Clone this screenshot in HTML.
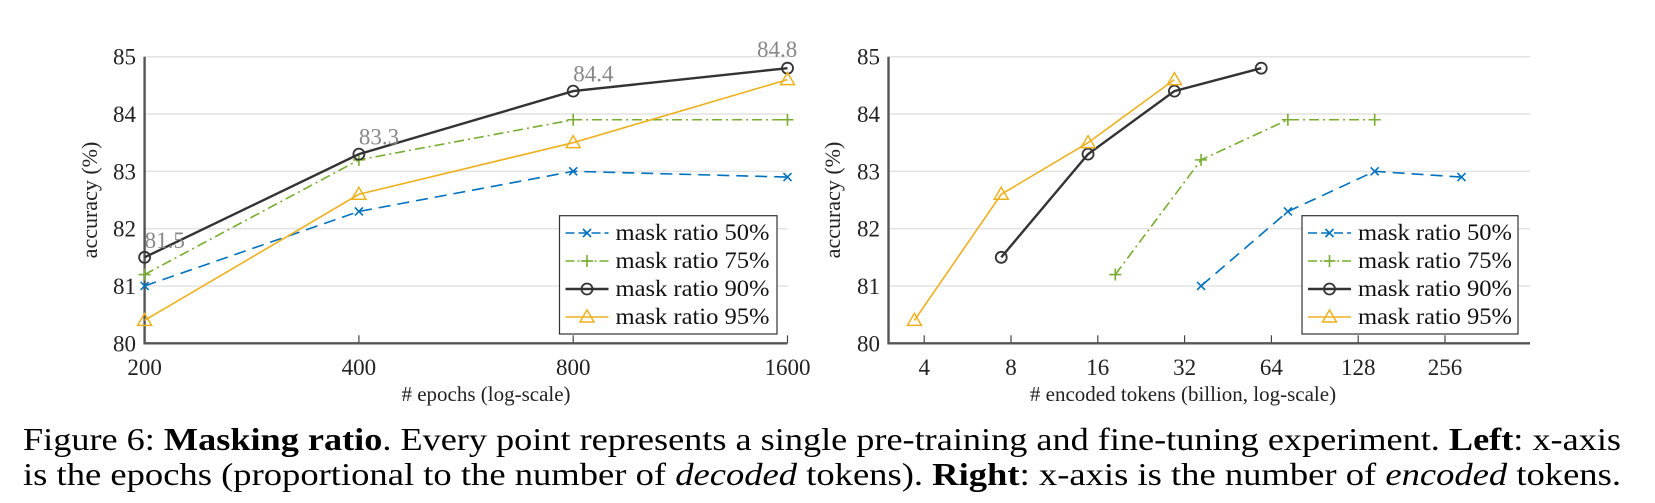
<!DOCTYPE html>
<html><head><meta charset="utf-8"><style>
html,body{margin:0;padding:0;background:#fff;}
svg{display:block;font-family:"Liberation Serif",serif;}
</style></head><body>
<svg id="fig" width="1655" height="503" viewBox="0 0 1655 503">
<g id="left"></g>
<g id="right"></g>
<text x="23" y="450" font-size="32" textLength="1598" lengthAdjust="spacingAndGlyphs">Figure 6: <tspan font-weight="bold">Masking ratio</tspan>. Every point represents a single pre-training and fine-tuning experiment. <tspan font-weight="bold">Left</tspan>: x-axis</text>
<text x="23" y="485" font-size="32" textLength="1598" lengthAdjust="spacingAndGlyphs">is the epochs (proportional to the number of <tspan font-style="italic">decoded</tspan> tokens). <tspan font-weight="bold">Right</tspan>: x-axis is the number of <tspan font-style="italic">encoded</tspan> tokens.</text>
</svg>
<script>
const seriesNames = ['mask ratio 50%','mask ratio 75%','mask ratio 90%','mask ratio 95%'];
const yTicks = [80,81,82,83,84,85];
const leftXTicks = [200,400,800,1600];
const leftX = [200,400,800,1600];
const left50 = [81.0,82.3,83.0,82.9];
const left75 = [81.2,83.2,83.9,83.9];
const left90 = [81.5,83.3,84.4,84.8];
const left95 = [80.4,82.6,83.5,84.6];
const leftAnnot = ['81.5','83.3','84.4','84.8'];
const rightXTicks = [4,8,16,32,64,128,256];
const right50X = [36.5,73,146,292];
const right50Y = [81.0,82.3,83.0,82.9];
const right75X = [18.4,36.5,73,146];
const right75Y = [81.2,83.2,83.9,83.9];
const right90X = [7.4,14.8,29.5,59];
const right90Y = [81.5,83.3,84.4,84.8];
const right95X = [3.7,7.4,14.8,29.5];
const right95Y = [80.4,82.6,83.5,84.6];

const NS='http://www.w3.org/2000/svg';
const colors=['#0072BD','#77AC30','#333333','#EDB120'];
const dashes=['12,7','10,4,2,4','',''];
const widths=[1.6,1.6,2.4,1.6];
function mk(p,tag,at){const e=document.createElementNS(NS,tag);for(const k in at)e.setAttribute(k,at[k]);p.appendChild(e);return e;}
const Y0=343.3,Y1=56.7;
function yS(v){return Y0-(v-80)*(Y0-Y1)/5;}

function marker(g,type,x,y,c){
  let m;
  if(type===0){m=mk(g,'path',{d:`M${x-4},${y-4}L${x+4},${y+4}M${x-4},${y+4}L${x+4},${y-4}`,stroke:c,'stroke-width':1.6,fill:'none'});}
  else if(type===1){m=mk(g,'path',{d:`M${x-6},${y}L${x+6},${y}M${x},${y-6}L${x},${y+6}`,stroke:c,'stroke-width':1.6,fill:'none'});}
  else if(type===2){m=mk(g,'circle',{cx:x,cy:y,r:5.5,stroke:c,'stroke-width':1.8,fill:'none'});}
  else {m=mk(g,'path',{d:`M${x},${y-7}L${x+7},${y+5}L${x-7},${y+5}Z`,stroke:c,'stroke-width':1.5,fill:'none'});}
  
  
}

function drawChart(g,o){
  const {xL,xR,xS,ticks,title,titleX,yTitleX,labelsRight,legL,legR,series}=o;
  // grid
  yTicks.forEach(t=>{
    if(t>80){const l=mk(g,'line',{x1:xL,x2:xR,y1:yS(t),y2:yS(t),stroke:'#e3e3e3','stroke-width':1.5});
    
    }
    const tx=mk(g,'text',{x:labelsRight,y:yS(t)+8,'font-size':23,'text-anchor':'end',fill:'#222'});
    tx.textContent=t;
    
    
  });
  ticks.forEach(t=>{
    const x=xS(t);
    const l=mk(g,'line',{x1:x,x2:x,y1:Y0,y2:Y0-8,stroke:'#444','stroke-width':1.2});
    
    
    const tx=mk(g,'text',{x:x,y:375,'font-size':23,'text-anchor':'middle',fill:'#222'});
    tx.textContent=t;
    
    
  });
  const ax=mk(g,'path',{d:`M${xL},${Y1}L${xL},${Y0}L${xR},${Y0}`,stroke:'#555','stroke-width':2.4,fill:'none'});
  
  
  const xt=mk(g,'text',{x:titleX,y:401,'font-size':21,'text-anchor':'middle',fill:'#222'});
  xt.textContent=title;
  
  
  const yt=mk(g,'text',{x:0,y:0,'font-size':22,'text-anchor':'middle',fill:'#222',transform:`translate(${yTitleX},200) rotate(-90)`});
  yt.textContent='accuracy (%)';
  
  
  series.forEach((s,i)=>{
    const sg=mk(g,'g',{});
    
    
    const pts=s.x.map((xv,j)=>[xS(xv),yS(s.y[j])]);
    const pl=mk(sg,'polyline',{points:pts.map(p=>p.join(',')).join(' '),fill:'none',stroke:colors[i],'stroke-width':widths[i],'stroke-dasharray':dashes[i]||'none'});
    
    
    pts.forEach(p=>marker(sg,i,p[0],p[1],colors[i]));
  });
  // legend
  const lg=mk(g,'g',{});
  
  
  mk(lg,'rect',{x:legL,y:215.7,width:legR-legL,height:118.3,fill:'#fff',stroke:'#333','stroke-width':1.2});
  seriesNames.forEach((n,i)=>{
    const cy=233+i*28;
    const e=mk(lg,'g',{});
    
    
    mk(e,'line',{x1:legL+6,x2:legL+49,y1:cy,y2:cy,stroke:colors[i],'stroke-width':widths[i],'stroke-dasharray':dashes[i]?(i===0?'9,4':'9,3,2,3'):'none'});
    marker(e,i,legL+27.5,cy,colors[i]);
    const t=mk(e,'text',{x:legL+56,y:cy+7,'font-size':23,fill:'#111',textLength:154,lengthAdjust:'spacingAndGlyphs'});
    t.textContent=n;
  });
}

const lxS=v=>144.6+Math.log2(v/200)*214.3;
drawChart(document.getElementById('left'),{xL:144.6,xR:787.5,xS:lxS,ticks:leftXTicks,title:'# epochs (log-scale)',titleX:486,yTitleX:97,labelsRight:136,legL:559.5,legR:777,
 series:[{x:leftX,y:left50},{x:leftX,y:left75},{x:leftX,y:left90},{x:leftX,y:left95}]});
// annotations
(function(){
  const g=document.getElementById('left');
  leftX.forEach((xv,j)=>{
    let x=lxS(xv); if(j===3) x=757;
    const t=mk(g,'text',{x:x,y:yS(left90[j])-(j===3?11:9.5),'font-size':23,fill:'#888'});
    t.textContent=leftAnnot[j];
    
    
  });
})();
const rxS=v=>924.2+(Math.log2(v)-2)*86.8;
drawChart(document.getElementById('right'),{xL:888.5,xR:1530,xS:rxS,ticks:rightXTicks,title:'# encoded tokens (billion, log-scale)',titleX:1183,yTitleX:840,labelsRight:880,legL:1302,legR:1518,
 series:[{x:right50X,y:right50Y},{x:right75X,y:right75Y},{x:right90X,y:right90Y},{x:right95X,y:right95Y}]});
</script>
</body></html>
